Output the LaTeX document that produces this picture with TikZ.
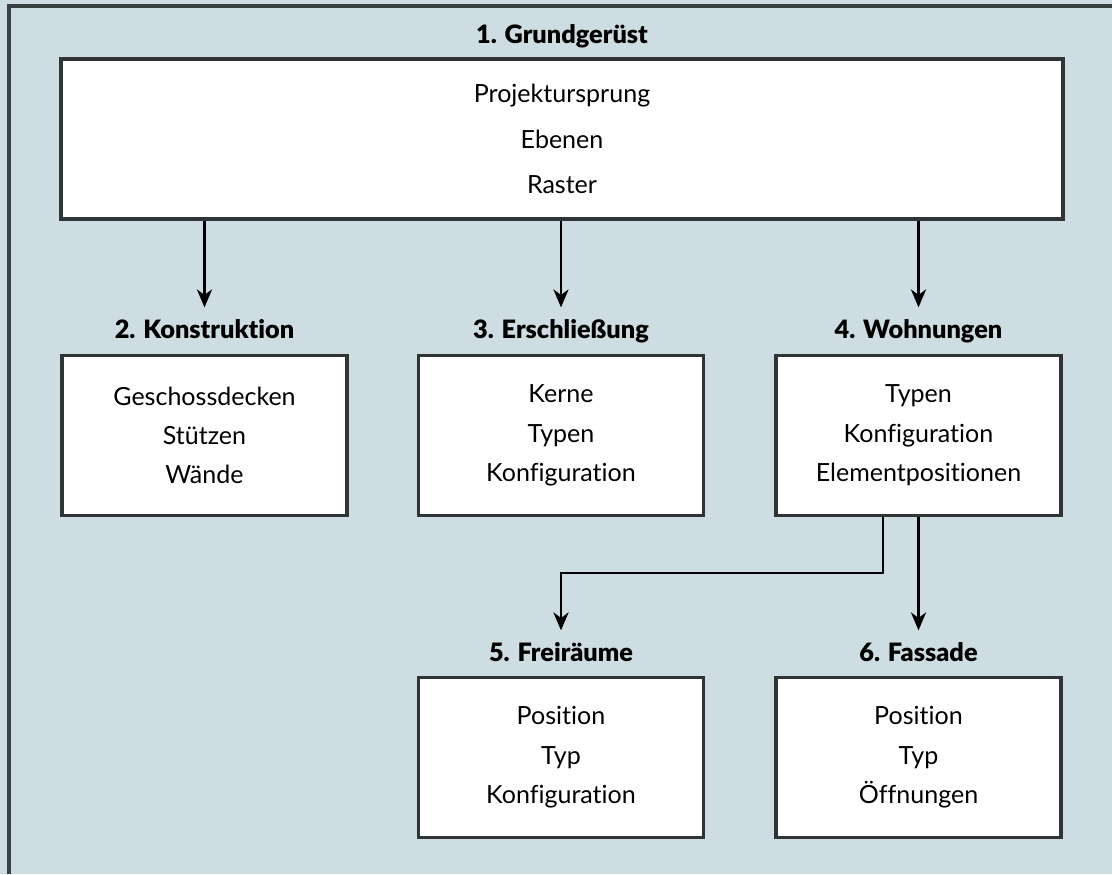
\documentclass[tikz,border=0pt]{standalone}
\usepackage{fontspec}
\setmainfont{Lato}[Ligatures=NoCommon]
\newfontfamily\titelfont{Lato Black}[Ligatures=NoCommon]
\usetikzlibrary{arrows.meta}

\definecolor{hinter}{HTML}{CEDDE2}
\definecolor{rahmen}{HTML}{3A4044}
\definecolor{kante}{HTML}{2F3437}

\begin{document}
\begin{tikzpicture}[
    box/.style={draw=kante, line width=2.8pt, fill=white, rectangle, align=center,
        minimum width=7.125cm, minimum height=4cm, font=\fontsize{17.8}{28}\selectfont},
    titel/.style={font=\titelfont\fontsize{18}{20}\selectfont, text height=0.75em, text depth=0.2em},
    pfeil/.style={line width=1.6pt, shorten >=0.4cm,
        -{Stealth[length=4.5mm, width=3.8mm, inset=1.4mm]}}
]
    % 背景と枠
    \fill[hinter] (0,0) rectangle (27.8,-21.85);
    \useasboundingbox (0,0) rectangle (27.8,-21.85);
    \draw[rahmen, line width=2.2pt] (0.225,-21.85) -- (0.225,-0.15) -- (27.8,-0.15);

    % ノードを描画
    \node[box, minimum width=25.05cm, font=\fontsize{17.8}{32.5}\selectfont] (G) at (14.05,-3.475) {Projektursprung\\Ebenen\\Raster};
    \node[box] (K) at (5.1125,-10.8875) {Geschossdecken\\Stützen\\Wände};
    \node[box] (E) at (14.025,-10.8875) {Kerne\\Typen\\Konfiguration};
    \node[box] (W) at (22.9625,-10.8875) {Typen\\Konfiguration\\Elementpositionen};
    \node[box] (R) at (14.025,-18.9375) {Position\\Typ\\Konfiguration};
    \node[box] (F) at (22.9625,-18.9375) {Position\\Typ\\Öffnungen};

    % 見出し
    \node[titel] (tG) at (14.05,-1.0) {1. Grundgerüst};
    \node[titel] (tK) at (5.1125,-8.375) {2. Konstruktion};
    \node[titel] (tE) at (14.025,-8.375) {3. Erschließung};
    \node[titel] (tW) at (22.9625,-8.375) {4. Wohnungen};
    \node[titel] (tR) at (14.025,-16.45) {5. Freiräume};
    \node[titel] (tF) at (22.9625,-16.45) {6. Fassade};

    % 矢印を描画
    \coordinate (knick) at (22.075,-14.325);
    \draw[pfeil] (G.south -| tK) -- (tK.north);
    \draw[pfeil] (G.south -| tE) -- (tE.north);
    \draw[pfeil] (G.south -| tW) -- (tW.north);
    \draw[pfeil] (W.south -| knick) -- (knick) -| (tR.north);
    \draw[pfeil] (W.south) -- (tF.north);
\end{tikzpicture}
\end{document}
